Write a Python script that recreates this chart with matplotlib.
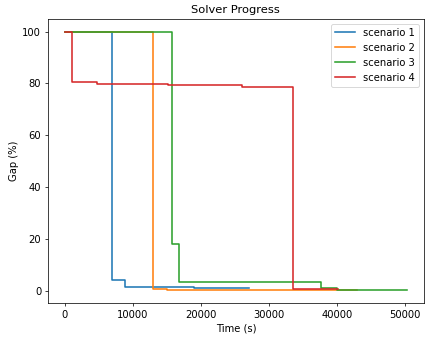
import matplotlib
matplotlib.use('Agg')
import matplotlib.pyplot as plt

# time (s) / gap (%) per scenario
s1_time = [0, 7000, 8900, 13000, 19000, 27100]
s1_gap = [100, 4.0, 1.6, 1.3, 1.0, 1.0]

s2_time = [0, 13000, 15000, 21400, 43000]
s2_gap = [100, 0.8, 0.4, 0.2, 0.2]

s3_time = [0, 15800, 16800, 37600, 40000, 50300]
s3_gap = [100, 18.0, 3.3, 1.0, 0.4, 0.4]

s4_time = [0, 1000, 1600, 4800, 15200, 17200, 26000, 33500, 40200]
s4_gap = [100, 80.7, 80.5, 79.9, 79.5, 79.2, 78.7, 0.8, 0.8]

scenarios = [
    ('scenario 1', s1_time, s1_gap),
    ('scenario 2', s2_time, s2_gap),
    ('scenario 3', s3_time, s3_gap),
    ('scenario 4', s4_time, s4_gap),
]

DPI = 66.4
plt.rcParams['font.size'] = 10.9
plt.rcParams['lines.linewidth'] = 1.7
fig = plt.figure(figsize=(425 / DPI, 339 / DPI), dpi=DPI)
ax = fig.add_axes([0.112, 0.106, 0.886, 0.839])

for name, t, g in scenarios:
    ax.step(t, g, where='post', label=name)

ax.set_title('Solver Progress', fontsize=12.5)
ax.set_xlabel('Time (s)')
ax.set_ylabel('Gap (%)')
ax.set_xticks([0, 10000, 20000, 30000, 40000, 50000])
ax.legend(loc='upper right')

fig.savefig('out.png', dpi=DPI)
